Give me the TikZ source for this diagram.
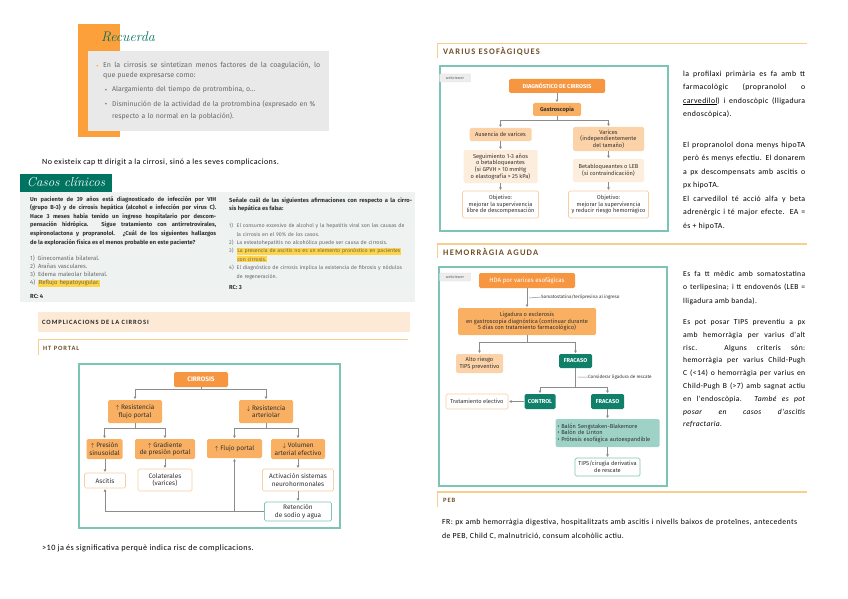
\documentclass[tikz,border=0pt]{standalone}
\usepackage{fontspec}
\newfontfamily\note[LetterSpace=5]{Carlito}
\newfontfamily\diag{Fira Sans}
\newfontfamily\hdrf[LetterSpace=14]{Carlito}
\usetikzlibrary{arrows.meta,positioning,calc}
\definecolor{OrA}{RGB}{247,150,64}
\definecolor{OrB}{RGB}{250,176,98}
\definecolor{OrC}{RGB}{252,211,168}
\definecolor{OrD}{RGB}{253,237,220}
\definecolor{OrL}{RGB}{250,206,162}
\definecolor{TlB}{RGB}{125,196,182}
\definecolor{TlD}{RGB}{16,128,106}
\definecolor{TlL}{RGB}{158,210,198}
\definecolor{TlH}{RGB}{0,116,96}
\definecolor{CaseBg}{RGB}{238,243,241}
\definecolor{HdrBg}{RGB}{252,234,214}
\definecolor{HdrLn}{RGB}{248,206,142}
\definecolor{HdrTx}{RGB}{112,80,40}
\definecolor{RecG}{RGB}{233,233,233}
\definecolor{RecO}{RGB}{251,160,58}
\definecolor{HiY}{RGB}{255,212,70}
\definecolor{DG}{RGB}{50,50,50}
\definecolor{MG}{RGB}{105,105,105}
\definecolor{LnG}{RGB}{140,140,140}
\newcommand\cf{\diag\fontsize{6.5}{7.6}\selectfont}
\newcommand\vf{\diag\fontsize{5.7}{6.6}\selectfont}
\newcommand\nf{\note\fontsize{7.8}{13.3}\selectfont}
\newcommand\opt[2]{\par\hangindent=7.5pt\hangafter=1\noindent\makebox[7.5pt][l]{#1)}#2}
\setlength{\fboxsep}{0.6pt}
\hyphenpenalty=10000
\tolerance=9999

\begin{document}
\begin{tikzpicture}[x=1pt,y=-1pt,
  box/.style={rounded corners=1.5pt, align=center, inner sep=1pt, text=DG},
  hdbox/.style={box, fill=OrA, text=white},
  orbox/.style={box, fill=OrB},
  ltbox/.style={box, fill=OrC},
  pabox/.style={box, fill=OrD},
  wbox/.style={box, draw=OrL, fill=white, line width=0.7pt},
  tlbox/.style={box, draw=TlB, fill=white, line width=0.7pt},
  dkbox/.style={box, fill=TlD, text=white},
  mtbox/.style={box, fill=TlL},
  arr/.style={draw=LnG, line width=0.6pt, -{Triangle[length=2.4pt,width=2.6pt]}, shorten >=0.8pt},
  frame/.style={draw=TlB, line width=1.1pt},
  tab/.style={rounded corners=1pt, fill=black!7, draw=black!12, inner sep=1pt,
              minimum width=31pt, minimum height=8pt, font=\diag\fontsize{3.8}{4}\selectfont, text=MG},
  hdr/.style={anchor=west, inner sep=0, text=HdrTx, font=\hdrf\bfseries\fontsize{6.5}{7}\selectfont},
  hdrbig/.style={hdr, font=\hdrf\bfseries\fontsize{8.5}{9}\selectfont},
  para/.style={anchor=north west, inner sep=0, text width=122pt, align=justify, font=\nf, text=black},
  ann/.style={anchor=west, inner sep=0, font=\diag\fontsize{4.6}{5}\selectfont, text=DG}
]
\useasboundingbox (0,0) rectangle (848,599);
\fill[white] (0,0) rectangle (848,599);

% Recuerda
\fill[RecO] (78,24) rectangle (120,137);
\fill[RecG] (88,51) rectangle (329,131);
\node[text=TlH, font=\itshape\fontsize{14}{14}\selectfont] (rec) at (128,37) {Recuerda};
\node[text=RecO, font=\diag\fontsize{7}{8}\selectfont] (recb) at (97.5,67) {•};
\node[anchor=north west, inner sep=0, text width=217pt, align=justify,
      font=\diag\fontsize{7.1}{10}\selectfont, text=MG] (rect) at (103,62)
  {En la cirrosis se sintetizan menos factores de la coagulación, lo\linebreak que puede expresarse como:};
\node[font=\diag\fontsize{6.9}{8}\selectfont, text=MG] (recd1) at (106,91) {•};
\node[anchor=north west, inner sep=0, text width=208pt, align=left,
      font=\diag\fontsize{6.9}{10}\selectfont, text=MG] (rec1) at (112,86)
  {Alargamiento del tiempo de protrombina, o...};
\node[font=\diag\fontsize{6.9}{8}\selectfont, text=MG] (recd2) at (106,105) {•};
\node[anchor=north west, inner sep=0, text width=208pt, align=left,
      font=\diag\fontsize{6.9}{12}\selectfont, text=MG] (rec2) at (112,100)
  {Disminución de la actividad de la protrombina (expresado en \% respecto a lo normal en la población).};

\node[anchor=base west, inner sep=0, font=\note\fontsize{8}{9}\selectfont] (nota1) at (42,164)
  {No existeix cap tt dirigit a la cirrosi, sinó a les seves complicacions.};

% Casos clinicos
\fill[TlH] (20,174) rectangle (112,192);
\fill[CaseBg] (20,192) rectangle (415,302);
\node[text=white, font=\itshape\fontsize{13}{13}\selectfont] (cch) at (66,182.5) {Casos clínicos};
\node[anchor=north west, inner sep=0, text width=186pt, align=justify,
      font=\diag\bfseries\fontsize{5.75}{8.6}\selectfont, text=DG] (c1q) at (30,196)
  {Un paciente de 39 años está diagnosticado de infección por VIH\linebreak (grupo B-3) y de cirrosis hepática (alcohol e infección por virus C).\linebreak Hace 3 meses había tenido un ingreso hospitalario por descom-\linebreak pensación hidrópica. Sigue tratamiento con antirretrovirales,\linebreak espironolactona y propranolol. ¿Cuál de los siguientes hallazgos\linebreak de la exploración física es el menos probable en este paciente?};
\node[anchor=north west, inner sep=0, text width=186pt, align=left,
      font=\diag\fontsize{5.9}{8.2}\selectfont, text=MG] (c1o) at (30,255)
  {1)\hspace{3pt}Ginecomastia bilateral.\\2)\hspace{3pt}Arañas vasculares.\\3)\hspace{3pt}Edema maleolar bilateral.\\4)\hspace{3pt}\colorbox{HiY}{Reflujo hepatoyugular.}};
\node[anchor=north west, inner sep=0, font=\diag\bfseries\fontsize{5.9}{6}\selectfont, text=DG] (c1r) at (30,294.5) {RC: 4};

\node[anchor=north west, inner sep=0, text width=183pt, align=justify,
      font=\diag\bfseries\fontsize{5.8}{8.3}\selectfont, text=DG] (c2q) at (229,197)
  {Señale cuál de las siguientes afirmaciones con respecto a la cirro-\linebreak sis hepática es falsa:};
\node[anchor=north west, inner sep=0, text width=183pt,
      font=\diag\fontsize{5.3}{8.4}\selectfont, text=MG] (c2o) at (229,219)
  {\opt{1}{El consumo excesivo de alcohol y la hepatitis viral son las causas de\linebreak la cirrosis en el 90\% de los casos.}
   \opt{2}{La esteatohepatitis no alcohólica puede ser causa de cirrosis.}
   \opt{3}{\colorbox{HiY}{La presencia de ascitis no es un elemento pronóstico en pacientes}\newline\colorbox{HiY}{con cirrosis.}}
   \opt{4}{El diagnóstico de cirrosis implica la existencia de fibrosis y nódulos\linebreak de regeneración.}\par};
\node[anchor=north west, inner sep=0, font=\diag\bfseries\fontsize{5.8}{6}\selectfont, text=DG] (c2r) at (229,285) {RC: 3};

% Complicacions
\fill[HdrBg] (38,312) rectangle (410,332);
\node[hdr, text=black!85] (hcomp) at (42,322) {COMPLICACIONS DE LA CIRROSI};
\draw[HdrLn, line width=1.2pt] (38,339.5) -- (408,339.5);
\draw[HdrLn, line width=1.2pt] (38.6,339.5) -- (38.6,355);
\node[hdr] (hhtp) at (43,348.5) {HT PORTAL};

% HT portal diagram
\draw[frame] (79,364) rectangle (340,528);
\node[hdbox, font=\cf\bfseries, minimum width=54pt, minimum height=15pt] (cir) at (201,379.5) {CIRROSIS};
\node[orbox, font=\cf, minimum width=54pt, minimum height=23pt] (rfp) at (135,411.5) {$\uparrow$ Resistencia\\flujo portal};
\node[orbox, font=\cf, minimum width=54pt, minimum height=23pt] (rar) at (266,411.5) {$\downarrow$ Resistencia\\arteriolar};
\node[orbox, font=\cf, minimum width=36pt, minimum height=20pt] (psi) at (104.5,449) {$\uparrow$ Presión\\sinusoidal};
\node[orbox, font=\cf, minimum width=60pt, minimum height=20pt] (gpp) at (165,449) {$\uparrow$ Gradiente\\de presión portal};
\node[orbox, font=\cf, minimum width=55pt, minimum height=19pt] (flp) at (234.5,448.5) {$\uparrow$ Flujo portal};
\node[orbox, font=\cf, minimum width=54pt, minimum height=20pt] (vae) at (298,449) {$\downarrow$ Volumen\\arterial efectivo};
\node[wbox, font=\cf, minimum width=41pt, minimum height=15pt] (asc) at (105,480.5) {Ascitis};
\node[wbox, font=\cf, minimum width=54pt, minimum height=22pt] (col) at (165,480) {Colaterales\\(varices)};
\node[wbox, font=\cf, minimum width=71pt, minimum height=22pt] (act) at (298,480) {Activación sistemas\\neurohormonales};
\node[tlbox, font=\cf, minimum width=67pt, minimum height=19pt] (ret) at (298,511.5) {Retención\\de sodio y agua};

\draw[arr] (cir.south) -- ++(0,2) -| (rfp.north);
\draw[arr] (cir.south) -- ++(0,2) -| (rar.north);
\draw[arr] (rfp.south) -- ++(0,5) -| (psi.north);
\draw[arr] (rfp.south) -- ++(0,5) -| (gpp.north);
\draw[arr] (rar.south) -- ++(0,5) -| (flp.north);
\draw[arr] (rar.south) -- ++(0,5) -| (vae.north);
\draw[arr] (psi.south -| asc) -- (asc.north);
\draw[arr] (gpp.south) -- (col.north);
\draw[arr] (vae.south) -- (vae.south |- act.north);
\draw[arr] (act.south) -- (ret.north);
\draw[arr] (ret.west) -| (asc.south);
\draw[arr] (ret.west) -| (flp.south);

\node[anchor=base west, inner sep=0, font=\note\fontsize{8.2}{9}\selectfont] (nota2) at (42,550.5)
  {>10 ja és significativa perquè indica risc de complicacions.};

% Varius esofagiques
\draw[HdrLn, line width=1.2pt] (437,43.5) -- (807,43.5);
\draw[HdrLn, line width=1.2pt] (437.6,43.5) -- (437.6,58);
\node[hdrbig] (hvar) at (443,51) {VARIUS ESOFÀGIQUES};

\draw[frame] (440,66) rectangle (668,231);
\node[tab] (tab1) at (455,78) {webviewer};
\node[hdbox, font=\vf\bfseries, minimum width=96pt, minimum height=14pt] (dgc) at (557,86) {DIAGNÓSTICO DE CIRROSIS};
\node[orbox, font=\vf\bfseries, minimum width=48pt, minimum height=13pt] (gas) at (557,109.5) {Gastroscopia};
\node[ltbox, font=\vf, minimum width=62pt, minimum height=13pt] (aus) at (500.5,134.5) {Ausencia de varices};
\node[ltbox, font=\vf, minimum width=71pt, minimum height=24pt] (var) at (608.5,139) {Varices\\(independientemente\\del tamaño)};
\node[pabox, font=\vf, minimum width=74pt, minimum height=33pt] (seg) at (500.5,166.5) {Seguimiento 1-3 años\\o betabloqueantes\\(si GPVH > 10 mmHg\\o elastografía > 25 kPa)};
\node[pabox, font=\vf, minimum width=71pt, minimum height=23pt] (bet) at (608.5,170.5) {Betabloqueantes o LEB\\(si contraindicación)};
\node[wbox, font=\vf, minimum width=76pt, minimum height=27pt] (ob1) at (500.5,204.5) {Objetivo:\\mejorar la supervivencia\\libre de descompensación};
\node[wbox, font=\vf, minimum width=80pt, minimum height=27pt] (ob2) at (608.5,204.5) {Objetivo:\\mejorar la supervivencia\\y reducir riesgo hemorrágico};

\draw[arr] (dgc.south) -- (gas.north);
\draw[arr] (gas.south) -- ++(0,4) -| (aus.north);
\draw[arr] (gas.south) -- ++(0,4) -| (var.north);
\draw[arr] (aus.south) -- (seg.north);
\draw[arr] (var.south) -- (bet.north);
\draw[arr] (seg.south) -- (ob1.north);
\draw[arr] (bet.south) -- (ob2.north);

\node[para] (p1) at (683,71)
  {la profilaxi primària es fa amb tt\linebreak farmacològic (propranolol o\linebreak \underline{carvedilol}) i endoscòpic (lligadura\linebreak endoscòpica).};
\node[para] (p2) at (683,142)
  {El propranolol dona menys hipoTA\linebreak però és menys efectiu. El donarem\linebreak a px descompensats amb ascitis o\linebreak px hipoTA.};
\node[para] (p3) at (683,196)
  {El carvedilol té acció alfa y beta\linebreak adrenèrgic i té major efecte. EA =\linebreak és + hipoTA.};

% Hemorragia aguda
\draw[HdrLn, line width=1.2pt] (437,244) -- (807,244);
\draw[HdrLn, line width=1.2pt] (437.6,244) -- (437.6,258);
\node[hdrbig] (hhem) at (443,252) {HEMORRÀGIA AGUDA};

\draw[frame] (439,267) rectangle (667,486);
\node[tab] (tab2) at (455,277) {webviewer};
\node[hdbox, font=\diag\fontsize{6.2}{7}\selectfont, minimum width=96pt, minimum height=15pt] (hda) at (527,280.5) {HDA por varices esofágicas};
\node[orbox, font=\vf, minimum width=138pt, minimum height=27pt] (lig) at (527,321.5) {Ligadura o esclerosis\\en gastroscopia diagnóstica (continuar durante\\5 días con tratamiento farmacológico)};
\node[ltbox, font=\vf, minimum width=47pt, minimum height=19pt] (alt) at (479.5,363.5) {Alto riesgo\\TIPS preventivo};
\node[dkbox, font=\vf\bfseries, minimum width=33pt, minimum height=14pt] (fr1) at (575.5,361) {FRACASO};
\node[dkbox, font=\vf\bfseries, minimum width=31pt, minimum height=15pt] (ctl) at (540,401.5) {CONTROL};
\node[dkbox, font=\vf\bfseries, minimum width=33pt, minimum height=15pt] (fr2) at (607.5,401.5) {FRACASO};
\node[wbox, font=\vf, minimum width=62pt, minimum height=15pt] (tre) at (477,401.5) {Tratamiento electivo};
\node[mtbox, font=\vf, text width=100pt, align=left, inner sep=2pt, minimum height=28pt] (bal) at (607.5,433)
  {• Balón Sengstaken-Blakemore\\• Balón de Linton\\• Prótesis esofágica autoexpandible};
\node[tlbox, font=\vf, minimum width=65pt, minimum height=18pt] (tips) at (607.5,467) {TIPS/cirugía derivativa\\de rescate};

\draw[arr] (hda.south) -- (lig.north);
\coordinate (k1) at ($(hda.south)!0.5!(lig.north)+(2,0)$);
\node[ann] (a1) at (541,297) {Somatostatina/terlipresina al ingreso};
\draw[LnG, line width=0.5pt] (k1) -- (a1.west);
\draw[arr] (lig.south) -- ++(0,7) -| (alt.north);
\draw[arr] (lig.south) -- ++(0,7) -| (fr1.north);
\draw[arr] (fr1.south) -- ++(0,19) -| (ctl.north);
\draw[arr] (fr1.south) -- ++(0,19) -| (fr2.north);
\coordinate (k2) at ($(fr1.south)+(2,9)$);
\node[ann] (a2) at (588,377) {Considerar ligadura de rescate};
\draw[LnG, line width=0.5pt] (k2) -- (a2.west);
\draw[arr] (ctl.west) -- (tre.east);
\draw[arr] (fr2.south) -- (bal.north);
\draw[arr] (bal.south) -- (tips.north);

\node[para, font=\note\fontsize{7.6}{13.3}\selectfont] (p4) at (683,271)
  {Es fa tt mèdic amb somatostatina\linebreak o terlipesina; i tt endovenós (LEB =\linebreak lligadura amb banda).};
\node[para, font=\note\fontsize{7.6}{12.8}\selectfont] (p5) at (683,319)
  {Es pot posar TIPS preventiu a px\linebreak amb hemorràgia per varius d'alt\linebreak risc. Alguns criteris són:\linebreak hemorràgia per varius Child-Pugh\linebreak C (<14) o hemorràgia per varius en\linebreak Child-Pugh B (>7) amb sagnat actiu\linebreak en l'endoscòpia. \textit{També es pot\linebreak posar en casos d'ascitis\linebreak refractaria.}};

% PEB
\draw[HdrLn, line width=1.2pt] (437,492) -- (807,492);
\draw[HdrLn, line width=1.2pt] (437.6,492) -- (437.6,507);
\node[hdr] (hpeb) at (443,500) {PEB};
\node[para, text width=355pt, font=\note\fontsize{7.8}{14}\selectfont] (p6) at (442,519)
  {FR: px amb hemorràgia digestiva, hospitalitzats amb ascitis i nivells baixos de proteïnes, antecedents de PEB, Child C, malnutrició, consum alcohòlic actiu.};
\end{tikzpicture}
\end{document}
